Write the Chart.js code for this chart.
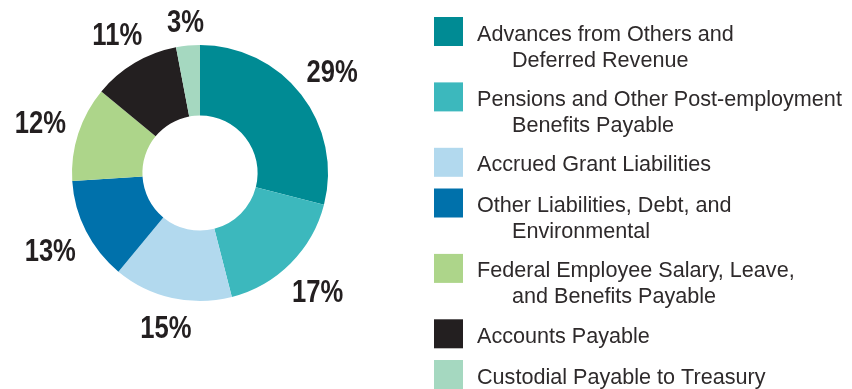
<!DOCTYPE html>
<html>
<head>
<meta charset="utf-8">
<script src="https://cdn.jsdelivr.net/npm/chart.js@4"></script>
<style>
  html, body { margin: 0; padding: 0; background: #ffffff; }
  #wrap { width: 852px; height: 389px; position: relative; }
</style>
</head>
<body>
<div id="wrap"><canvas id="c" width="852" height="389"></canvas></div>
<script>
// Liability categories (legend lines, continuation lines are indented)
const categories = [
  ['Advances from Others and', 'Deferred Revenue'],
  ['Pensions and Other Post-employment', 'Benefits Payable'],
  ['Accrued Grant Liabilities'],
  ['Other Liabilities, Debt, and', 'Environmental'],
  ['Federal Employee Salary, Leave,', 'and Benefits Payable'],
  ['Accounts Payable'],
  ['Custodial Payable to Treasury']
];
// Share of total liabilities, percent
const shares = [29, 17, 15, 13, 12, 11, 3];
const colors = ['#008b94', '#3cb8bd', '#b2d9ee', '#0071ab', '#add58a', '#231f20', '#a5d8c0'];

const ink = '#231f20';

// Percentage labels placed just outside each slice, in a condensed bold face
const sliceLabels = {
  id: 'sliceLabels',
  afterDatasetsDraw(chart, args, opts) {
    const ctx = chart.ctx;
    const meta = chart.getDatasetMeta(0);
    const values = chart.data.datasets[0].data;
    ctx.save();
    ctx.font = 'bold 32px "Liberation Sans", Arial, sans-serif';
    ctx.fillStyle = ink;
    ctx.textAlign = 'center';
    ctx.textBaseline = 'alphabetic';
    const capH = 23;
    const sx = opts.condense;
    meta.data.forEach((arc, i) => {
      const p = arc.getProps(['x', 'y', 'startAngle', 'endAngle', 'outerRadius'], true);
      const mid = (p.startAngle + p.endAngle) / 2;
      const txt = values[i] + '%';
      const w = ctx.measureText(txt).width * sx;
      const c = Math.cos(mid), s = Math.sin(mid);
      const d = p.outerRadius + opts.gap + Math.abs(c) * w / 2 + Math.abs(s) * capH / 2;
      const cx = p.x + c * d;
      const cy = p.y + s * d;
      ctx.save();
      ctx.translate(cx, cy + capH / 2);
      ctx.scale(sx, 1);
      ctx.fillText(txt, 0, 0);
      ctx.restore();
    });
    ctx.restore();
  }
};

// Legend with square swatches and hanging-indent wrapped names
const sideLegend = {
  id: 'sideLegend',
  afterDraw(chart, args, opts) {
    const ctx = chart.ctx;
    ctx.save();
    ctx.font = '21.6px "Liberation Sans", Arial, sans-serif';
    ctx.textBaseline = 'alphabetic';
    let y = opts.top;
    chart.data.labels.forEach((lines, i) => {
      ctx.fillStyle = chart.data.datasets[0].backgroundColor[i];
      ctx.fillRect(opts.left, y, opts.box, opts.box);
      ctx.fillStyle = opts.color;
      lines.forEach((ln, j) => {
        const tx = opts.left + opts.textOffset + (j > 0 ? opts.indent : 0);
        ctx.fillText(ln, tx, y + opts.baseline + j * opts.lineHeight);
      });
      y += lines.length * opts.rowStep + opts.rowGap;
    });
    ctx.restore();
  }
};

new Chart(document.getElementById('c'), {
  type: 'doughnut',
  data: {
    labels: categories,
    datasets: [{
      data: shares,
      backgroundColor: colors,
      borderWidth: 0,
      hoverOffset: 0
    }]
  },
  options: {
    responsive: false,
    animation: false,
    cutout: '45%',
    layout: { padding: { left: 72, right: 524, top: 45, bottom: 88 } },
    plugins: {
      legend: { display: false },
      tooltip: { enabled: false },
      sliceLabels: { gap: 12, condense: 0.8 },
      sideLegend: {
        left: 434, top: 17, box: 29, textOffset: 43, indent: 35,
        baseline: 23.5, lineHeight: 26, rowStep: 24.7, rowGap: 16,
        color: '#2e2a2b'
      }
    }
  },
  plugins: [sliceLabels, sideLegend]
});
</script>
</body>
</html>
